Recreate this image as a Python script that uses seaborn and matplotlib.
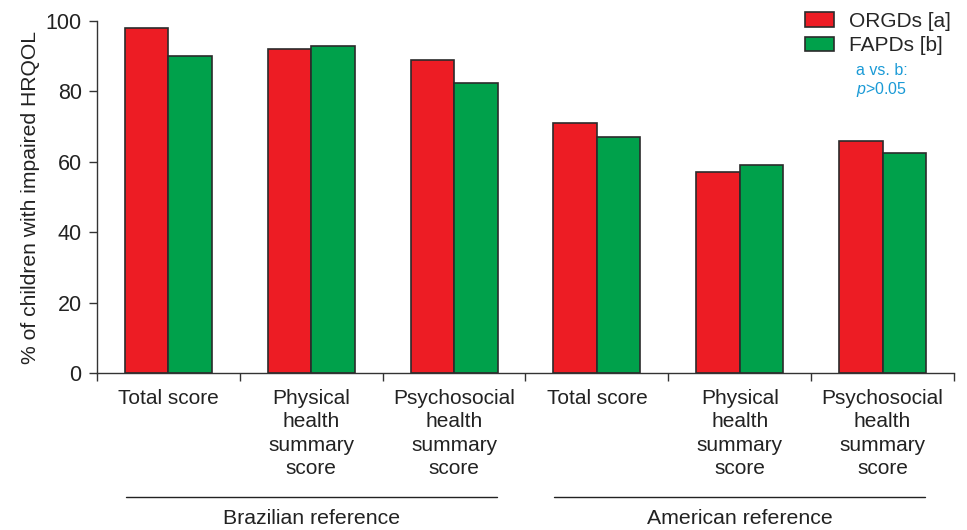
import matplotlib
matplotlib.use("Agg")
import matplotlib.pyplot as plt
import matplotlib.transforms as mtransforms
from matplotlib.patches import Patch
import seaborn as sns
import pandas as pd

# ---- data ----
categories = ["Total score", "Physical\nhealth\nsummary\nscore", "Psychosocial\nhealth\nsummary\nscore",
              "Total score", "Physical\nhealth\nsummary\nscore", "Psychosocial\nhealth\nsummary\nscore"]
orgds = [98, 92, 89, 71, 57, 66]
fapds = [90, 93, 82.5, 67, 59, 62.5]
series_names = ["ORGDs [a]", "FAPDs [b]"]
group_names = ["Brazilian reference", "American reference"]
y_ticks = [0, 20, 40, 60, 80, 100]

sns.set_theme(style="ticks")
plt.rcParams['font.family'] = ['Liberation Sans', 'DejaVu Sans']
plt.rcParams['mathtext.fontset'] = 'custom'
plt.rcParams['mathtext.it'] = 'Liberation Sans:italic'
plt.rcParams['mathtext.rm'] = 'Liberation Sans'

keys = [f"c{i}" for i in range(len(categories))]
df = pd.DataFrame({
    "key": keys * 2,
    "value": orgds + fapds,
    "series": [series_names[0]] * len(keys) + [series_names[1]] * len(keys),
})

colors = ["#ED1C24", "#00A14B"]
fig = plt.figure(figsize=(9.67, 5.30), dpi=100)
ax = fig.add_axes([97/967, 1-373/530, (954-97)/967, (373-21)/530])

sns.barplot(data=df, x="key", y="value", hue="series", order=keys,
            hue_order=series_names, palette=colors, width=0.61, gap=0,
            edgecolor="#2b2b2b", linewidth=1.2, saturation=1, ax=ax, legend=False)

ax.set_xlim(-0.5, len(keys) - 0.5)
ax.set_ylim(0, 100)
ax.set_yticks(y_ticks)
ax.set_yticklabels([str(t) for t in y_ticks], fontsize=15.5, color="#222222")
ax.tick_params(axis="y", length=6, width=1, color="#333333", pad=5)

ax.set_xticks(range(len(keys)))
ax.set_xticklabels(categories, fontsize=15, color="#222222", linespacing=1.3)
ax.tick_params(axis="x", which="major", length=0, pad=11.5)
ax.set_xticks([i - 0.5 for i in range(len(keys) + 1)], minor=True)
ax.tick_params(axis="x", which="minor", length=6, width=1, color="#333333")
ax.set_xlabel("")
ax.set_ylabel("% of children with impaired HRQOL", fontsize=15.2, color="#222222", labelpad=4)

for s in ["top", "right"]:
    ax.spines[s].set_visible(False)
for s in ["left", "bottom"]:
    ax.spines[s].set_color("#333333")
    ax.spines[s].set_linewidth(1)

# group lines and labels
trans = mtransforms.blended_transform_factory(ax.transData, fig.transFigure)
for gi, gname in enumerate(group_names):
    center = gi * 3 + 1
    ax.plot([center - 1.3, center + 1.3], [1 - 497/530] * 2, transform=trans,
            color="#222222", lw=1, clip_on=False)
    ax.text(center, 1 - 518/530, gname, transform=trans, ha="center", va="center",
            fontsize=15.3, color="#222222")

handles = [Patch(facecolor=c, edgecolor="#2b2b2b", linewidth=1.2) for c in colors]
fig.legend(handles, series_names, loc="upper left", bbox_to_anchor=(805/967, 1 - 12/530),
           frameon=False, fontsize=15, handlelength=1.4, handleheight=0.7,
           handletextpad=0.7, labelspacing=0.25, borderpad=0, borderaxespad=0)

fig.text(882/967, 1 - 81/530, "a vs. b:\n$\\mathit{p}$>0.05", ha="center", va="center",
         fontsize=11.5, color="#1a9ad6", linespacing=1.15)

fig.savefig("out.png", dpi=100)
